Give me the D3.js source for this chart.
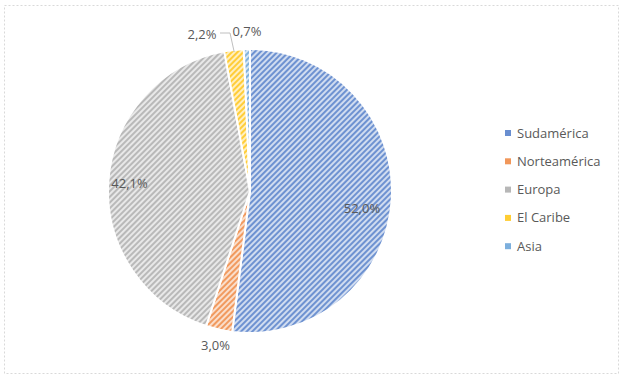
<!DOCTYPE html>
<html>
<head>
<meta charset="utf-8">
<script src="https://cdn.jsdelivr.net/npm/d3@7"></script>
<style>
  body { margin: 0; background: #fff; }
  text { font-family: "Open Sans", "Noto Sans", sans-serif; fill: #595959; }
</style>
</head>
<body>
<div id="chart"></div>
<script>
// data
var regions = ["Sudamérica", "Norteamérica", "Europa", "El Caribe", "Asia"];
var shares = [52.0, 3.0, 42.1, 2.2, 0.7];
var colors = ["#4472C4", "#ED7D31", "#A5A5A5", "#FFC000", "#5B9BD5"];

var width = 624, height = 380;
var cx = 250, cy = 191, r = 142;

var svg = d3.select("#chart").append("svg")
  .attr("width", width)
  .attr("height", height);

// hatch patterns, one per slice colour
var defs = svg.append("defs");
colors.forEach(function(c, i) {
  var p = defs.append("pattern")
    .attr("id", "hatch" + i)
    .attr("patternUnits", "userSpaceOnUse")
    .attr("width", 4)
    .attr("height", 4)
    .attr("patternTransform", "rotate(45)");
  p.append("rect").attr("width", 4).attr("height", 4).attr("fill", c).attr("fill-opacity", 0.25);
  p.append("rect").attr("width", 2).attr("height", 4).attr("fill", c).attr("fill-opacity", 0.7);
});

// chart border
svg.append("rect")
  .attr("x", 4.5).attr("y", 5.5)
  .attr("width", 614).attr("height", 368)
  .attr("fill", "none")
  .attr("stroke", "#d9d9d9")
  .attr("stroke-dasharray", "2,2");

var data = regions.map(function(d, i) { return { name: d, value: shares[i], i: i }; });

var pie = d3.pie().sort(null).value(function(d) { return d.value; });
var arc = d3.arc().innerRadius(0).outerRadius(r);
var arcs = pie(data);

var g = svg.append("g").attr("transform", "translate(" + cx + "," + cy + ")");

g.selectAll("path.slice")
  .data(arcs)
  .enter()
  .append("path")
  .attr("class", "slice")
  .attr("d", arc)
  .attr("fill", function(d) { return "url(#hatch" + d.data.i + ")"; })
  .attr("stroke", "#fff")
  .attr("stroke-width", 2);

var fmt = function(v) { return v.toFixed(1).replace(".", ",") + "%"; };

// label placement: big slices inside, small ones outside
function labelPos(d) {
  var a = (d.startAngle + d.endAngle) / 2;
  var name = d.data.name;
  var rr;
  if (name === "Sudamérica") rr = r * 0.79;
  else if (name === "Europa") rr = r * 0.85;
  else rr = r + 16;
  var x = Math.sin(a) * rr, y = -Math.cos(a) * rr;
  if (name === "Sudamérica") y += 10;
  if (name === "El Caribe") { x = -48; y = -r - 15; }
  if (name === "Asia") { x = -3; y = -r - 18; }
  return [x, y];
}

// leader line for El Caribe
var caribe = arcs[3];
var ca = (caribe.startAngle + caribe.endAngle) / 2;
var tip = [Math.sin(ca) * (r - 2), -Math.cos(ca) * (r - 2)];
g.append("polyline")
  .attr("points", [[tip[0], tip[1]], [-20, -r - 16], [-30, -r - 16]].map(function(p) { return p.join(","); }).join(" "))
  .attr("fill", "none")
  .attr("stroke", "#bfbfbf")
  .attr("stroke-width", 1);

g.selectAll("text.lbl")
  .data(arcs)
  .enter()
  .append("text")
  .attr("class", "lbl")
  .attr("x", function(d) { return labelPos(d)[0]; })
  .attr("y", function(d) { return labelPos(d)[1]; })
  .attr("text-anchor", "middle")
  .attr("dy", "0.35em")
  .style("font-size", "13px")
  .text(function(d) { return fmt(d.data.value); });

// legend
var legend = svg.append("g").attr("transform", "translate(505,133)");
var row = legend.selectAll("g")
  .data(data)
  .enter()
  .append("g")
  .attr("transform", function(d, i) { return "translate(0," + i * 28.3 + ")"; });
row.append("rect")
  .attr("x", 0).attr("y", -3)
  .attr("width", 6).attr("height", 6)
  .attr("fill", function(d) { return colors[d.i]; })
  .attr("fill-opacity", 0.8);
row.append("text")
  .attr("x", 12)
  .attr("dy", "0.35em")
  .style("font-size", "13px")
  .text(function(d) { return d.name; });
</script>
</body>
</html>
